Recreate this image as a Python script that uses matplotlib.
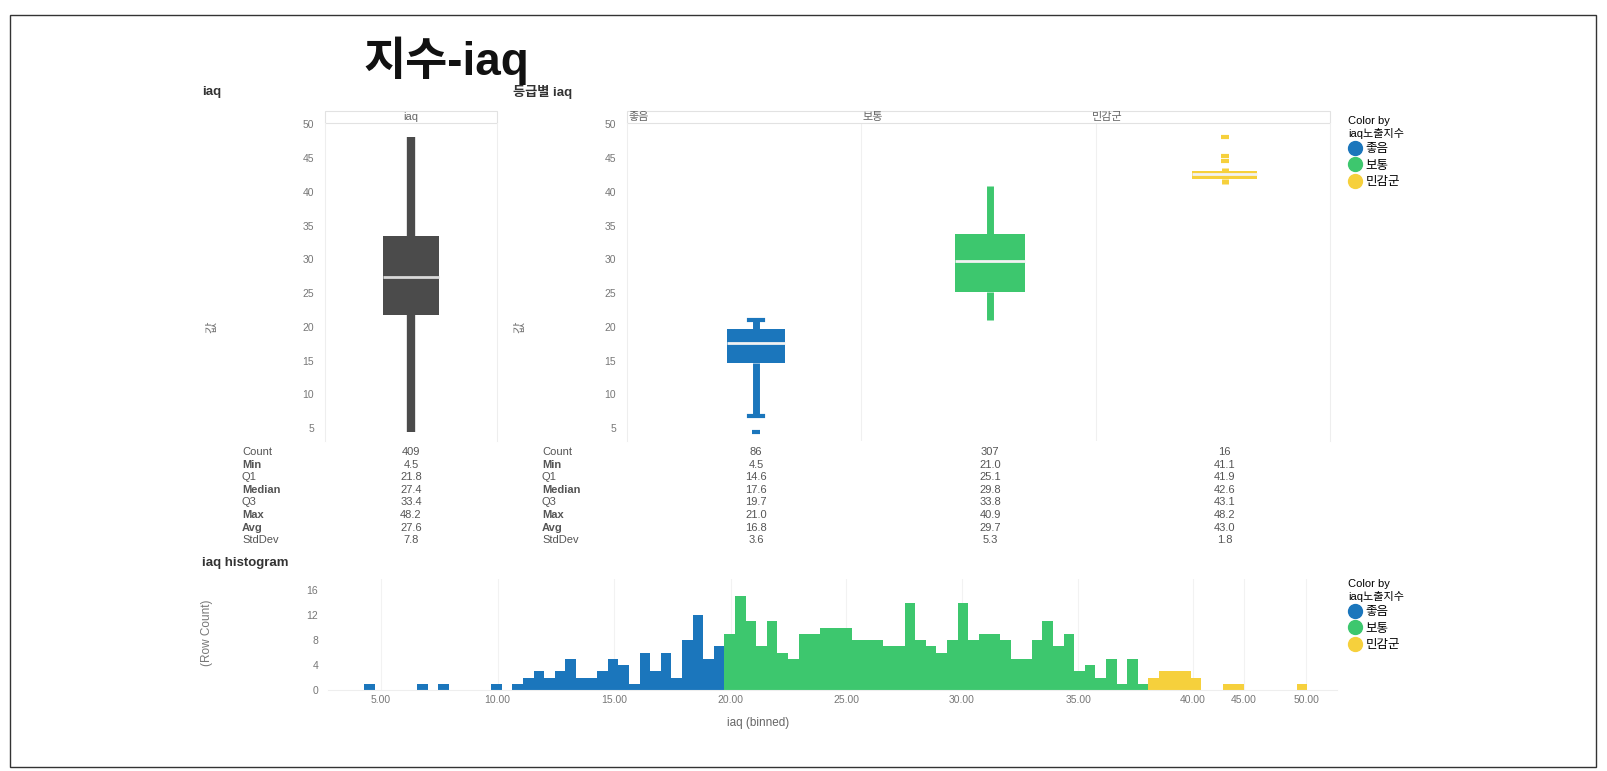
import numpy as np
import matplotlib.pyplot as plt
import matplotlib.transforms as mtransforms
from matplotlib.lines import Line2D
from matplotlib.patches import Rectangle

plt.rcParams['font.family'] = ['Liberation Sans', 'Noto Sans CJK KR', 'DejaVu Sans']

W, H = 1607, 771

grades = ['좋음', '보통', '민감군']
grade_colors = ['#1b76bc', '#3dc76e', '#f6d03c']
all_color = '#4b4b4b'

stat_names = ['Count', 'Min', 'Q1', 'Median', 'Q3', 'Max', 'Avg', 'StdDev']
bold_rows = ['Min', 'Median', 'Max', 'Avg']

iaq_stats = [409, 4.5, 21.8, 27.4, 33.4, 48.2, 27.6, 7.8]
good_stats = [86, 4.5, 14.6, 17.6, 19.7, 21.0, 16.8, 3.6]
normal_stats = [307, 21.0, 25.1, 29.8, 33.8, 40.9, 29.7, 5.3]
sensitive_stats = [16, 41.1, 41.9, 42.6, 43.1, 48.2, 43.0, 1.8]

# whisker ends and outliers as drawn in the picture
iaq_whiskers = [4.5, 48.2]
good_whiskers = [6.8, 21.0]
good_fliers = [4.5]
normal_whiskers = [21.0, 40.9]
sensitive_whiskers = [41.1, 43.6]
sensitive_fliers = [44.6, 45.3, 48.2]

# histogram, bins of 0.5, counts per grade starting at the first bin
bin_width = 0.5
good_start = 4.0
good_counts = [1, 0, 0, 0, 0, 1, 0, 1, 0, 0, 0, 0, 1, 0, 1, 2, 3, 2, 3, 5, 2, 2, 3, 5,
               4, 1, 6, 3, 6, 2, 8, 12, 5, 7]
normal_start = 21.0
normal_counts = [9, 15, 11, 7, 11, 6, 5, 9, 9, 10, 10, 10, 8, 8, 8, 7, 7, 14, 8, 7,
                 6, 8, 14, 8, 9, 9, 8, 5, 5, 8, 11, 7, 9, 3, 4, 2, 5, 1, 5, 1]
sensitive_start = 41.0
sensitive_counts = [2, 3, 3, 3, 2, 0, 0, 1, 1, 0, 0, 0, 0, 0, 1]

hist_tick_labels = ['5.00', '10.00', '15.00', '20.00', '25.00', '30.00', '35.00',
                    '40.00', '45.00', '50.00']
hist_tick_pos = [4.8, 10.3, 15.8, 21.3, 26.75, 32.2, 37.7, 43.1, 45.5, 48.45]


def fx(px):
    return px / W


def fy(py):
    return 1 - py / H


def box_stats(label, st, wh, fl):
    return dict(label=label, q1=st[2], med=st[3], q3=st[4],
                whislo=wh[0], whishi=wh[1], fliers=fl)


def style_box_axes(ax):
    ax.set_ylim(3.1, 50.2)
    ax.set_yticks(range(5, 51, 5))
    ax.tick_params(axis='y', length=0, labelsize=7.5, labelcolor='#777777', pad=8)
    ax.tick_params(axis='x', length=0, labelbottom=False)
    for s in ['top', 'bottom']:
        ax.spines[s].set_visible(False)
    for s in ['left', 'right']:
        ax.spines[s].set_color('#eeeeee')


def header(ax, labels, positions):
    ax.add_patch(Rectangle((0, 1.0), 1, 0.038, transform=ax.transAxes, clip_on=False,
                           facecolor='white', edgecolor='#e2e2e2', linewidth=0.8))
    tr = ax.get_xaxis_transform()
    for lab, p in zip(labels, positions):
        ax.text(p, 1.019, lab, transform=tr, ha='center', va='center',
                fontsize=8, color='#666666')


fig = plt.figure(figsize=(W / 100, H / 100), dpi=100)

# left box plot: all data
ax1 = fig.add_axes([fx(325), fy(441), fx(497 - 325), (441 - 123) / H])
ax1.bxp([box_stats('iaq', iaq_stats, iaq_whiskers, [])], positions=[0], widths=0.33,
        patch_artist=True, showfliers=False,
        boxprops=dict(facecolor=all_color, edgecolor=all_color, linewidth=0),
        medianprops=dict(color='#d9d9d9', linewidth=2),
        whiskerprops=dict(color=all_color, linewidth=6, solid_capstyle='butt'),
        capprops=dict(linewidth=0))
ax1.set_xlim(-0.5, 0.5)
style_box_axes(ax1)
header(ax1, ['iaq'], [0])

# right box plot: by grade
ax2 = fig.add_axes([fx(627), fy(441), fx(1330 - 627), (441 - 123) / H])
pos = [0, 1, 2]
widths = [0.25, 0.3, 0.28]
cap_widths = [0.06, 0.0, 0.0]
all_grade_stats = [good_stats, normal_stats, sensitive_stats]
all_grade_wh = [good_whiskers, normal_whiskers, sensitive_whiskers]
all_grade_fl = [good_fliers, [], sensitive_fliers]
for i in range(3):
    c = grade_colors[i]
    ax2.bxp([box_stats(grades[i], all_grade_stats[i], all_grade_wh[i], all_grade_fl[i])],
            positions=[pos[i]], widths=widths[i], patch_artist=True,
            boxprops=dict(facecolor=c, edgecolor=c, linewidth=0),
            medianprops=dict(color='#f2f2f2', linewidth=2),
            whiskerprops=dict(color=c, linewidth=5, solid_capstyle='butt'),
            capprops=dict(color=c, linewidth=3), capwidths=cap_widths[i],
            flierprops=dict(marker='_', markeredgecolor=c, markersize=6, markeredgewidth=3))
ax2.set_xlim(-0.55, 2.45)
for p in [0.45, 1.45]:
    ax2.axvline(p, color='#f0f0f0', linewidth=0.8, zorder=0)
style_box_axes(ax2)
header(ax2, grades, [p - 0.5 for p in pos])

# y labels
fig.text(fx(212), fy(327), '값', rotation=90, ha='center', va='center',
         fontsize=9, color='#777777')
fig.text(fx(520), fy(327), '값', rotation=90, ha='center', va='center',
         fontsize=9, color='#777777')

# stats table under the box plots
tr1 = mtransforms.blended_transform_factory(ax1.transData, fig.transFigure)
tr2 = mtransforms.blended_transform_factory(ax2.transData, fig.transFigure)
for i, name in enumerate(stat_names):
    y = fy(452 + i * 12.6)
    w = 'bold' if name in bold_rows else 'normal'
    for x0 in [242, 542]:
        fig.text(fx(x0), y, name, ha='left', va='center', fontsize=8,
                 color='#555555', fontweight=w)
    fmt = '{:d}' if name == 'Count' else '{:.1f}'
    fig.text(0, y, fmt.format(iaq_stats[i]), transform=tr1, ha='center', va='center',
             fontsize=8, color='#555555')
    for j in range(3):
        fig.text(pos[j], y, fmt.format(all_grade_stats[j][i]), transform=tr2,
                 ha='center', va='center', fontsize=8, color='#555555')

# histogram
ax3 = fig.add_axes([fx(328), fy(690), fx(1337 - 328), (690 - 579) / H])
for start, counts, c in zip([good_start, normal_start, sensitive_start],
                            [good_counts, normal_counts, sensitive_counts], grade_colors):
    lefts = start + bin_width * np.arange(len(counts))
    ax3.bar(lefts, counts, width=bin_width, align='edge', color=c, linewidth=0)
ax3.set_xlim(2.3, 49.9)
ax3.set_ylim(0, 17.8)
ax3.set_yticks([0, 4, 8, 12, 16])
ax3.set_xticks(hist_tick_pos)
ax3.set_xticklabels(hist_tick_labels)
ax3.tick_params(length=0, labelsize=7.5, labelcolor='#777777')
ax3.tick_params(axis='y', pad=7)
ax3.grid(axis='x', color='#f2f2f2', linewidth=0.8)
ax3.set_axisbelow(True)
for s in ['top', 'right', 'left']:
    ax3.spines[s].set_visible(False)
ax3.spines['bottom'].set_color('#eeeeee')
fig.text(fx(758), fy(723), 'iaq (binned)', ha='center', va='center',
         fontsize=8.5, color='#666666')
fig.text(fx(207), fy(633), '(Row Count)', rotation=90, ha='center', va='center',
         fontsize=8.5, color='#777777')

# titles
fig.text(fx(446), fy(61), '지수-iaq', fontsize=33, fontweight='bold', ha='center',
         va='center', color='#111111')
fig.text(fx(202), fy(92), 'iaq', fontsize=9.5, fontweight='bold', ha='left',
         va='center', color='#333333')
fig.text(fx(513), fy(92), '등급별 iaq', fontsize=9.5, fontweight='bold', ha='left',
         va='center', color='#333333')
fig.text(fx(202), fy(563), 'iaq histogram', fontsize=9.5, fontweight='bold', ha='left',
         va='center', color='#333333')

# legends
handles = [Line2D([], [], marker='o', linestyle='', markersize=10, color=c)
           for c in grade_colors]
for ytop in [110, 573]:
    fig.legend(handles, grades, title='Color by\niaq노출지수', loc='upper left',
               bbox_to_anchor=(fx(1342), fy(ytop)), frameon=False, fontsize=9,
               title_fontsize=8, handletextpad=0.4, labelspacing=0.35,
               alignment='left', borderpad=0, handlelength=1.0)

# outer frame
fig.patches.append(Rectangle((fx(10), fy(767)), fx(1586), (767 - 15) / H,
                             transform=fig.transFigure, fill=False,
                             edgecolor='#333333', linewidth=1))

fig.savefig('out.png', dpi=100)
